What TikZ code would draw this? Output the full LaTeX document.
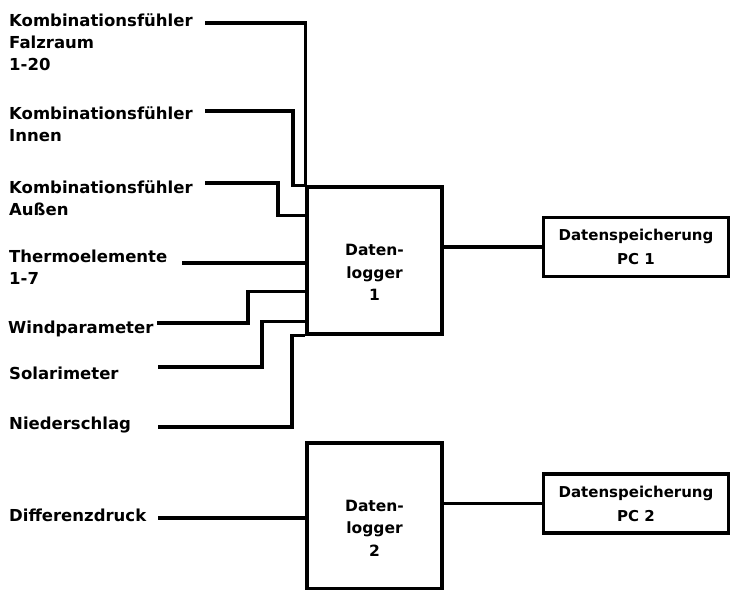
\documentclass[tikz,border=0pt]{standalone}
\usepackage{fontspec}
\setmainfont{DejaVu Sans}
\usetikzlibrary{calc}

\begin{document}
\begin{tikzpicture}[x=1pt,y=-1pt,
    wire/.style={line width=3.2pt},
    sensor/.style={anchor=north west,align=left,inner sep=0pt,font=\fontsize{16.5}{22}\selectfont\bfseries},
    logger/.style={draw,line width=3.4pt,minimum width=135pt,minimum height=147pt,inner sep=0pt},
    logtxt/.style={align=center,inner sep=0pt,font=\fontsize{15.5}{22.5}\selectfont\bfseries},
    store/.style={draw,line width=3.4pt,minimum width=185pt,minimum height=59pt,inner sep=0pt,align=center,font=\fontsize{15}{24}\selectfont\bfseries}]
  \useasboundingbox (0,0) rectangle (730,589);
  % sensors
  \node[sensor] (falz) at (9,14) {Kombinationsfühler\\Falzraum\\1-20};
  \node[sensor] (innen) at (9,107) {Kombinationsfühler\\Innen};
  \node[sensor] (aussen) at (9,181) {Kombinationsfühler\\Außen};
  \node[sensor] (thermo) at (9,250) {Thermoelemente\\1-7};
  \node[sensor] (wind) at (8,321) {Windparameter};
  \node[sensor] (solar) at (9,367) {Solarimeter};
  \node[sensor] (nieder) at (9,417) {Niederschlag};
  \node[sensor] (diff) at (9,509) {Differenzdruck};
  \coordinate (falzs) at (205,23);
  \coordinate (innens) at (205,111);
  \coordinate (aussens) at (205,183);
  \coordinate (thermos) at (182,263);
  \coordinate (winds) at (157,323);
  \coordinate (solars) at (158,367);
  \coordinate (nieders) at (158,427);
  \coordinate (diffs) at (158,518);
  % logger and pc
  \node[logger] (dl1) at (374.5,260.5) {};
  \node[logtxt] (dl1txt) at ($(dl1.center)+(0,12)$) {Daten-\\logger\\1};
  \node[logger,minimum height=146pt] (dl2) at (374.5,516) {};
  \node[logtxt] (dl2txt) at ($(dl2.center)+(0,12)$) {Daten-\\logger\\2};
  \node[store] (pc1) at (636,247) {Datenspeicherung\\PC 1};
  \node[store] (pc2) at (636,503.5) {Datenspeicherung\\PC 2};
  \coordinate (in3) at ($(dl1.north west)+(0,30)$);
  \coordinate (in5) at ($(dl1.north west)+(0,106)$);
  \coordinate (in6) at ($(dl1.north west)+(0,136)$);
  % wires
  \draw[wire] (falzs) -| (dl1.north west);
  \draw[wire] (innens) -- ++(88,0) |- (dl1.north west);
  \draw[wire] (aussens) -- ++(73,0) |- (in3);
  \draw[wire] (thermos) -- (thermos -| dl1.west);
  \draw[wire] (winds) -- ++(91,0) |- (in5);
  \draw[wire] (solars) -- ++(104,0) |- (in6);
  \draw[wire] (nieders) -- ++(134,0) |- (dl1.south west);
  \draw[wire] (diffs) -- (diffs -| dl2.west);
  \draw[wire] (pc1.west) -- (pc1.west -| dl1.east);
  \draw[wire] (pc2.west) -- (pc2.west -| dl2.east);
\end{tikzpicture}
\end{document}
